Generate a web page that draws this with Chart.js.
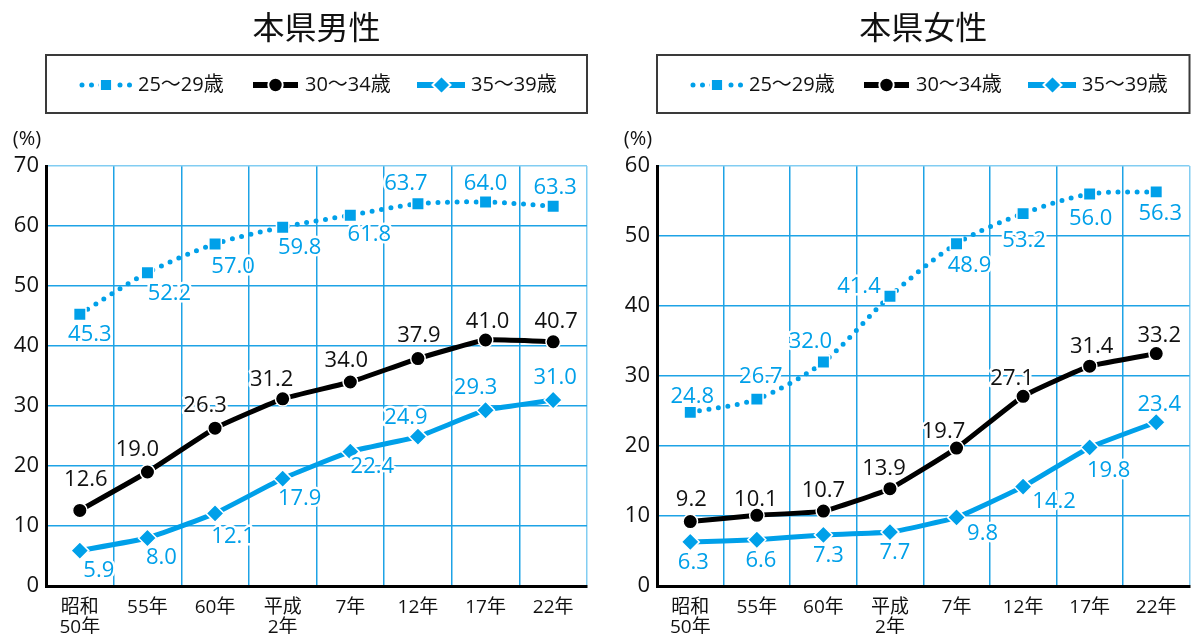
<!DOCTYPE html>
<html>
<head>
<meta charset="utf-8">
<script src="https://cdn.jsdelivr.net/npm/chart.js@4.4.1/dist/chart.umd.min.js"></script>
<style>
  html, body { margin: 0; padding: 0; background: #fff; }
  body { position: relative; width: 1192px; height: 634px; overflow: hidden; }
  .panel { position: absolute; top: 0; width: 600px; height: 634px; }
  #malePanel { left: 0; }
  #femalePanel { left: 600px; }
</style>
</head>
<body>
<div class="panel" id="malePanel"><canvas id="maleChart" width="600" height="634"></canvas></div>
<div class="panel" id="femalePanel"><canvas id="femaleChart" width="600" height="634"></canvas></div>
<script>
// Survey years (Showa 50 … Heisei 22)
const categories = [['昭和', '50年'], '55年', '60年', ['平成', '2年'], '7年', '12年', '17年', '22年'];
const seriesNames = ['25〜29歳', '30〜34歳', '35〜39歳'];

// Unmarried rate (%) — men
const male25to29 = [45.3, 52.2, 57.0, 59.8, 61.8, 63.7, 64.0, 63.3];
const male30to34 = [12.6, 19.0, 26.3, 31.2, 34.0, 37.9, 41.0, 40.7];
const male35to39 = [5.9, 8.0, 12.1, 17.9, 22.4, 24.9, 29.3, 31.0];

// Unmarried rate (%) — women
const female25to29 = [24.8, 26.7, 32.0, 41.4, 48.9, 53.2, 56.0, 56.3];
const female30to34 = [9.2, 10.1, 10.7, 13.9, 19.7, 27.1, 31.4, 33.2];
const female35to39 = [6.3, 6.6, 7.3, 7.7, 9.8, 14.2, 19.8, 23.4];

// Value axis ranges
const maleAxisMax = 70;
const femaleAxisMax = 60;
const axisStep = 10;

// Where each value label sits relative to its point [dx, dy]
const maleLabelOffsets = [
  [[10, 21], [22, 21], [18, 23], [17, 21], [19, 20], [-12, -20], [0, -18], [2, -18]],
  [[6, -31], [-10, -22], [-10, -22], [-11, -19], [-4, -21], [1, -23], [2, -18], [3, -20]],
  [[19, 20], [14, 20], [18, 23], [17, 20], [22, 15], [-12, -19], [-10, -22], [2, -22]]
];
const femaleLabelOffsets = [
  [[2, -16], [4, -22], [-13, -20], [-31, -9], [13, 22], [1, 27], [1, 25], [4, 22]],
  [[1, -22], [-1, -16], [0, -20], [-6, -20], [-13, -16], [-11, -18], [2, -19], [3, -18]],
  [[3, 21], [4, 21], [5, 21], [5, 21], [26, 16], [31, 15], [19, 23], [3, -17]]
];

const FONT = "'Open Sans', 'Noto Sans CJK JP', sans-serif";
const CJK_FONT = "'Noto Sans CJK JP', sans-serif";
const BLUE = '#00a0e9';
const GRID = '#1ea3e6';
const GRID_EDGE = '#82cdf2';
const INK = '#111111';

Chart.defaults.font.family = FONT;
Chart.defaults.color = INK;

// Legend sample / text positions measured from the plot's left edge
const legendSampleX = [33, 207, 371];
const legendTextX = [92, 259, 425];
const legendY = 85;

const decorPlugin = {
  id: 'decor',
  afterDatasetsDraw(chart, args, opts) {
    const ctx = chart.ctx;
    ctx.save();
    ctx.font = `22px ${FONT}`;
    ctx.textAlign = 'center';
    ctx.textBaseline = 'middle';
    ctx.lineJoin = 'round';
    chart.data.datasets.forEach((ds, i) => {
      const meta = chart.getDatasetMeta(i);
      meta.data.forEach((pt, j) => {
        const [dx, dy] = opts.offsets[i][j];
        const text = ds.data[j].toFixed(1);
        const x = pt.x + dx, y = pt.y + dy;
        ctx.strokeStyle = '#ffffff';
        ctx.lineWidth = 5;
        ctx.strokeText(text, x, y);
        ctx.fillStyle = ds.labelColor;
        ctx.fillText(text, x, y);
      });
    });
    ctx.restore();
  },
  afterDraw(chart, args, opts) {
    const ctx = chart.ctx;
    const a = chart.chartArea;
    ctx.save();
    // heading
    ctx.fillStyle = INK;
    ctx.textAlign = 'center';
    ctx.textBaseline = 'middle';
    ctx.font = `32px ${CJK_FONT}`;
    ctx.fillText(opts.title, (a.left + a.right) / 2, 27);
    // unit
    ctx.font = `20px ${FONT}`;
    ctx.fillText('(%)', a.left - 19, 139);
    // legend frame
    ctx.strokeStyle = '#3a3a3a';
    ctx.lineWidth = 2;
    ctx.strokeRect(a.left, 55, a.right - a.left, 58);
    // legend entries
    chart.data.datasets.forEach((ds, i) => {
      const sx = a.left + legendSampleX[i];
      const w = ds.legendWidth;
      ctx.save();
      ctx.strokeStyle = ds.borderColor;
      ctx.lineWidth = ds.legendLineWidth;
      ctx.lineCap = ds.borderCapStyle || 'butt';
      ctx.setLineDash(ds.borderDash || []);
      ctx.beginPath();
      ctx.moveTo(sx + (ds.borderDash ? 3 : 0), legendY);
      ctx.lineTo(sx + w, legendY);
      ctx.stroke();
      ctx.restore();
      ctx.save();
      ctx.fillStyle = ds.pointBackgroundColor;
      ctx.strokeStyle = ds.pointBorderColor;
      Chart.helpers.drawPoint(ctx, {
        pointStyle: ds.pointStyle,
        radius: ds.legendRadius,
        borderWidth: ds.pointBorderWidth,
        rotation: 0
      }, sx + ds.legendMarkX, legendY);
      ctx.restore();
      ctx.fillStyle = INK;
      ctx.textAlign = 'left';
      ctx.textBaseline = 'middle';
      ctx.font = `20px ${FONT}`;
      ctx.fillText(ds.label, a.left + legendTextX[i], legendY);
    });
    ctx.restore();
  }
};

function makeDatasets(v1, v2, v3) {
  return [
    {
      label: seriesNames[0], data: v1,
      borderColor: BLUE, labelColor: BLUE,
      borderWidth: 5, borderDash: [0, 9.5], borderCapStyle: 'round',
      pointStyle: 'rect', pointRadius: 8.8,
      pointBackgroundColor: BLUE, pointBorderColor: '#ffffff', pointBorderWidth: 1.5,
      tension: 0.3,
      legendWidth: 52, legendLineWidth: 5, legendMarkX: 27, legendRadius: 8.6
    },
    {
      label: seriesNames[1], data: v2,
      borderColor: '#000000', labelColor: INK,
      borderWidth: 5, borderCapStyle: 'butt',
      pointStyle: 'circle', pointRadius: 7.25,
      pointBackgroundColor: '#000000', pointBorderColor: '#ffffff', pointBorderWidth: 1.5,
      tension: 0.12,
      legendWidth: 45, legendLineWidth: 6, legendMarkX: 22.5, legendRadius: 7.2
    },
    {
      label: seriesNames[2], data: v3,
      borderColor: BLUE, labelColor: BLUE,
      borderWidth: 5, borderCapStyle: 'butt',
      pointStyle: 'rectRot', pointRadius: 9,
      pointBackgroundColor: BLUE, pointBorderColor: '#ffffff', pointBorderWidth: 1.5,
      tension: 0.12,
      legendWidth: 48, legendLineWidth: 6, legendMarkX: 24.5, legendRadius: 9
    }
  ];
}

function makeOptions(title, yMax, rightPad, yWidth, offsets) {
  return {
    responsive: false,
    animation: false,
    devicePixelRatio: 1,
    events: [],
    layout: { padding: { top: 166, right: rightPad, left: 0, bottom: 0 } },
    plugins: {
      legend: { display: false },
      tooltip: { enabled: false },
      decor: { title: title, offsets: offsets }
    },
    scales: {
      x: {
        type: 'category',
        offset: true,
        grid: {
          offset: true,
          drawTicks: false,
          lineWidth: 1.5,
          color: c => (c.type === 'tick' ? GRID : GRID_EDGE)
        },
        border: { color: '#000000', width: 3 },
        ticks: {
          padding: 12,
          autoSkip: false,
          maxRotation: 0,
          color: INK,
          font: { size: 19, family: FONT, lineHeight: 1.05 }
        },
        afterFit(s) { s.height = 48; }
      },
      y: {
        min: 0,
        max: yMax,
        grid: {
          drawTicks: false,
          lineWidth: 1.5,
          color: c => (c.tick && c.tick.value === yMax ? GRID_EDGE : GRID)
        },
        border: { color: '#000000', width: 3 },
        ticks: {
          stepSize: axisStep,
          padding: 7,
          color: INK,
          font: { size: 22, family: FONT }
        },
        afterFit(s) { s.width = yWidth; }
      }
    }
  };
}

new Chart(document.getElementById('maleChart'), {
  type: 'line',
  data: { labels: categories, datasets: makeDatasets(male25to29, male30to34, male35to39) },
  options: makeOptions('本県男性', maleAxisMax, 13, 46, maleLabelOffsets),
  plugins: [decorPlugin]
});

new Chart(document.getElementById('femaleChart'), {
  type: 'line',
  data: { labels: categories, datasets: makeDatasets(female25to29, female30to34, female35to39) },
  options: makeOptions('本県女性', femaleAxisMax, 2, 57, femaleLabelOffsets),
  plugins: [decorPlugin]
});
</script>
</body>
</html>
